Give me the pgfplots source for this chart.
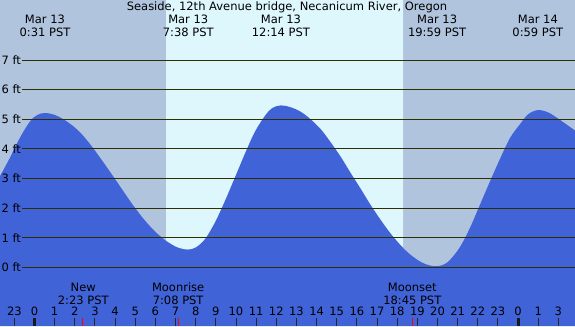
\documentclass[border=0pt]{standalone}
\usepackage{pgfplots}
\pgfplotsset{compat=1.18}
\usepackage{pgfplotstable}
\usepackage{fontspec}
\setmainfont{DejaVu Sans}
\definecolor{nightcol}{HTML}{B0C4DE}
\definecolor{daycol}{HTML}{DDF7FD}
\definecolor{tidecol}{HTML}{4163D8}
\definecolor{linecol}{HTML}{2E2E00}
\definecolor{txtcol}{HTML}{2E2E00}
\pgfplotstableread{
h ft
-1.712 3.08
-1.22 3.70
-0.72 4.38
-0.22 4.93
0.15 5.15
0.52 5.21
1.0 5.15
1.6 4.93
2.2 4.60
2.75 4.17
3.3 3.66
3.91 3.07
4.4 2.58
4.9 2.09
5.48 1.58
6.0 1.20
6.48 0.92
6.97 0.71
7.3 0.63
7.63 0.60
8.0 0.67
8.46 0.95
8.96 1.52
9.45 2.24
9.95 3.04
10.45 3.85
10.94 4.58
11.44 5.12
11.8 5.38
12.23 5.47
12.7 5.41
13.2 5.26
13.67 5.02
14.2 4.67
14.66 4.26
15.2 3.73
15.66 3.22
16.2 2.64
16.65 2.14
17.15 1.63
17.64 1.17
18.15 0.76
18.63 0.44
19.2 0.17
19.63 0.06
19.98 0.04
20.3 0.09
20.62 0.25
21.12 0.69
21.61 1.33
22.11 2.12
22.61 2.91
23.1 3.66
23.6 4.37
24.1 4.84
24.5 5.17
24.98 5.31
25.5 5.23
26.08 4.98
26.824 4.62
}\tidedata
\begin{document}
\begin{tikzpicture}
\fontsize{11.5pt}{13pt}\selectfont
\begin{axis}[
  width=575pt, height=326pt, scale only axis,
  xmin=-1.712, xmax=26.824, ymin=-1.983, ymax=9.03,
  axis lines=none, ticks=none,
  every node/.style={text=txtcol, font=\fontsize{11.5pt}{13pt}\selectfont},
]
% background: night and day
\addplot [fill=nightcol, draw=none] coordinates {(-1.712,-1.983) (-1.712,9.03) (26.824,9.03) (26.824,-1.983)} \closedcycle;
\addplot [fill=daycol, draw=none] coordinates {(6.53,-1.983) (6.53,9.03) (18.29,9.03) (18.29,-1.983)} \closedcycle;
% tide
\addplot [fill=tidecol, draw=none, smooth, tension=0.55] table[x=h, y=ft] {\tidedata} |- (axis cs:-1.712,-1.983) -- cycle;
% level lines
\pgfplotsinvokeforeach{0,...,7}{
  \addplot [linecol, line width=1.1pt] coordinates {(-0.62,#1) (26.824,#1)};
  \node[anchor=east, inner sep=0pt] at (axis cs:-0.66,#1) {#1 ft};
}
% hour ticks and labels
\pgfplotsinvokeforeach{-1,1,2,...,23,25,26}{
  \draw[black!85, line width=1pt] (axis cs:#1,-1.72) -- (axis cs:#1,-1.983);
}
\draw[black!90, line width=3pt] (axis cs:0,-1.72) -- (axis cs:0,-1.983);
\draw[black!90, line width=3pt] (axis cs:24,-1.72) -- (axis cs:24,-1.983);
\pgfplotsinvokeforeach{0,...,23}{
  \node[anchor=base, inner sep=0pt] at (axis cs:#1,-1.635) {#1};
}
\node[anchor=base, inner sep=0pt] at (axis cs:-1,-1.635) {23};
\node[anchor=base, inner sep=0pt] at (axis cs:24,-1.635) {0};
\node[anchor=base, inner sep=0pt] at (axis cs:25,-1.635) {1};
\node[anchor=base, inner sep=0pt] at (axis cs:26,-1.635) {3};
% moon events
\draw[red, line width=1.2pt] (axis cs:2.38,-1.72) -- (axis cs:2.38,-1.983);
\draw[red, line width=1.2pt] (axis cs:7.13,-1.72) -- (axis cs:7.13,-1.983);
\draw[red, line width=1.2pt] (axis cs:18.75,-1.72) -- (axis cs:18.75,-1.983);
\node[anchor=base, inner sep=0pt] at (axis cs:2.42,-0.82) {New};
\node[anchor=base, inner sep=0pt] at (axis cs:2.42,-1.24) {2:23 PST};
\node[anchor=base, inner sep=0pt] at (axis cs:7.13,-0.82) {Moonrise};
\node[anchor=base, inner sep=0pt] at (axis cs:7.13,-1.24) {7:08 PST};
\node[anchor=base, inner sep=0pt] at (axis cs:18.75,-0.82) {Moonset};
\node[anchor=base, inner sep=0pt] at (axis cs:18.75,-1.24) {18:45 PST};
% title and tide extremes
\node[anchor=base, inner sep=0pt] at (axis cs:12.53,8.66) {Seaside, 12th Avenue bridge, Necanicum River, Oregon};
\node[anchor=base, inner sep=0pt] at (axis cs:0.52,8.24) {Mar 13};
\node[anchor=base, inner sep=0pt] at (axis cs:0.52,7.81) {0:31 PST};
\node[anchor=base, inner sep=0pt] at (axis cs:7.63,8.24) {Mar 13};
\node[anchor=base, inner sep=0pt] at (axis cs:7.63,7.81) {7:38 PST};
\node[anchor=base, inner sep=0pt] at (axis cs:12.23,8.24) {Mar 13};
\node[anchor=base, inner sep=0pt] at (axis cs:12.23,7.81) {12:14 PST};
\node[anchor=base, inner sep=0pt] at (axis cs:19.98,8.24) {Mar 13};
\node[anchor=base, inner sep=0pt] at (axis cs:19.98,7.81) {19:59 PST};
\node[anchor=base, inner sep=0pt] at (axis cs:24.98,8.24) {Mar 14};
\node[anchor=base, inner sep=0pt] at (axis cs:24.98,7.81) {0:59 PST};
\end{axis}
\pgfresetboundingbox
\path (current axis.south west) rectangle (current axis.north east);
\end{tikzpicture}
\end{document}
